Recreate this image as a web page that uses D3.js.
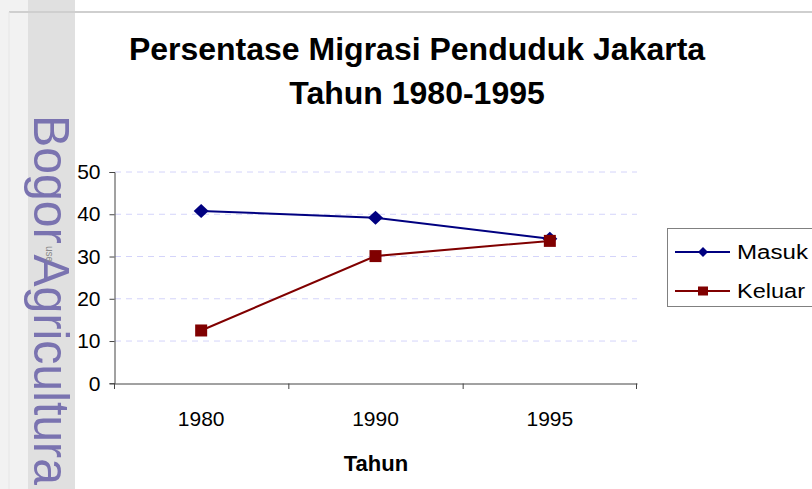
<!DOCTYPE html>
<html><head><meta charset="utf-8">
<script src="https://cdn.jsdelivr.net/npm/d3@7/dist/d3.min.js"></script>
<style>html,body{margin:0;padding:0;background:#fff;overflow:hidden}svg{display:block;font-family:"Liberation Sans",Arial,sans-serif}</style>
</head><body>
<script>
const categories = ["1980", "1990", "1995"];
const masuk = [40.8, 39.2, 34.2];
const keluar = [12.5, 30.1, 33.7];
const yTicks = [0, 10, 20, 30, 40, 50];
const titleLines = ["Persentase Migrasi Penduduk Jakarta", "Tahun 1980-1995"];
const xTitle = "Tahun";
const seriesNames = ["Masuk", "Keluar"];

const W = 812, H = 489;
const svg = d3.select("body").append("svg").attr("width", W).attr("height", H);

// left strip background
svg.append("rect").attr("x", 0).attr("y", 0).attr("width", 28).attr("height", H).attr("fill", "#f2f2f2");
svg.append("rect").attr("x", 28).attr("y", 0).attr("width", 47).attr("height", H).attr("fill", "#e0e0e0");
// frame lines
svg.append("line").attr("x1", 9).attr("x2", W).attr("y1", 12).attr("y2", 12).attr("stroke", "#cfcfcf").attr("stroke-width", 2);
svg.append("line").attr("x1", 9).attr("x2", 9).attr("y1", 12).attr("y2", H).attr("stroke", "#e6e6e6").attr("stroke-width", 1);

// watermark
svg.append("text").attr("transform", "translate(34,115) rotate(90)")
  .attr("font-size", 50).attr("fill", "#7a73b0")
  .attr("textLength", 370).attr("lengthAdjust", "spacingAndGlyphs").text("Bogor Agricultura");
svg.append("text").attr("transform", "translate(46,246) rotate(90)")
  .attr("font-size", 10).attr("fill", "#8a8a8a").text("use");

const x = d3.scaleBand().domain(categories).range([114, 637]);
const y = d3.scaleLinear().domain([0, 50]).range([383.3, 172]);

// gridlines
svg.append("g").selectAll("line").data(yTicks.filter(d => d > 0)).join("line")
  .attr("x1", 115).attr("x2", 637).attr("y1", d => y(d)).attr("y2", d => y(d))
  .attr("stroke", "#d4d4fa").attr("stroke-width", 1).attr("stroke-dasharray", "6,5");

// axes
const yAxis = svg.append("g").attr("transform", "translate(114.5,0)")
  .call(d3.axisLeft(y).tickValues(yTicks).tickSize(5).tickPadding(9));
const xAxis = svg.append("g").attr("transform", "translate(0,383.5)")
  .call(d3.axisBottom(x).tickSize(0).tickPadding(0));
xAxis.selectAll(".tick text").remove();
xAxis.selectAll(".tick line").remove();
// band boundary ticks
svg.append("g").selectAll("line").data(categories.concat(["end"])).join("line")
  .attr("x1", (d, i) => i < categories.length ? x(d) + 0.5 : x.range()[1] - 0.5)
  .attr("x2", (d, i) => i < categories.length ? x(d) + 0.5 : x.range()[1] - 0.5)
  .attr("y1", 383.5).attr("y2", 389).attr("stroke", "#444");
[yAxis, xAxis].forEach(g => {
  g.select(".domain").attr("stroke", "#444");
  g.selectAll(".tick line").attr("stroke", "#444");
  g.selectAll("text").attr("font-size", 21).attr("fill", "#000").attr("font-family", "Liberation Sans, Arial, sans-serif");
});
// x tick labels
svg.append("g").selectAll("text").data(categories).join("text")
  .attr("x", d => x(d) + x.bandwidth() / 2).attr("y", 426)
  .attr("text-anchor", "middle").attr("font-size", 21).text(d => d);

// titles
svg.append("g").selectAll("text").data(titleLines).join("text")
  .attr("x", 417).attr("y", (d, i) => 60 + i * 44)
  .attr("text-anchor", "middle").attr("font-size", 32).attr("font-weight", "bold").text(d => d);
svg.append("text").attr("x", 376).attr("y", 471).attr("text-anchor", "middle")
  .attr("font-size", 22).attr("font-weight", "bold").text(xTitle);

// lines
const cx = d => x(d) + x.bandwidth() / 2;
const line = d3.line().x((d, i) => cx(categories[i])).y(d => y(d));
const colors = ["#000080", "#800000"];
[masuk, keluar].forEach((s, k) => {
  svg.append("path").datum(s).attr("d", line).attr("fill", "none")
    .attr("stroke", colors[k]).attr("stroke-width", 2);
});
const diamond = (s, w, h) => `M0,${-h/2}L${w/2},0L0,${h/2}L${-w/2},0Z`;
svg.append("g").selectAll("path").data(masuk).join("path")
  .attr("transform", (d, i) => `translate(${cx(categories[i])},${y(d)})`)
  .attr("d", diamond(0, 15, 14)).attr("fill", colors[0]);
svg.append("g").selectAll("rect").data(keluar).join("rect")
  .attr("x", (d, i) => cx(categories[i]) - 6).attr("y", d => y(d) - 6)
  .attr("width", 12).attr("height", 12).attr("fill", colors[1]);

// legend
const lg = svg.append("g");
lg.append("rect").attr("x", 667.5).attr("y", 228.5).attr("width", 160).attr("height", 78)
  .attr("fill", "#fff").attr("stroke", "#808080");
seriesNames.forEach((n, i) => {
  const ly = 252 + i * 39;
  lg.append("line").attr("x1", 675).attr("x2", 730).attr("y1", ly).attr("y2", ly)
    .attr("stroke", colors[i]).attr("stroke-width", 2);
  if (i === 0) lg.append("path").attr("transform", `translate(703,${ly})`).attr("d", diamond(0, 10, 10)).attr("fill", colors[i]);
  else lg.append("rect").attr("x", 698).attr("y", ly - 4.5).attr("width", 10).attr("height", 9).attr("fill", colors[i]);
  lg.append("text").attr("x", 737).attr("y", ly + 7).attr("font-size", 20)
    .attr("textLength", i === 0 ? 71 : 68).attr("lengthAdjust", "spacingAndGlyphs").text(n);
});
</script>
</body></html>
